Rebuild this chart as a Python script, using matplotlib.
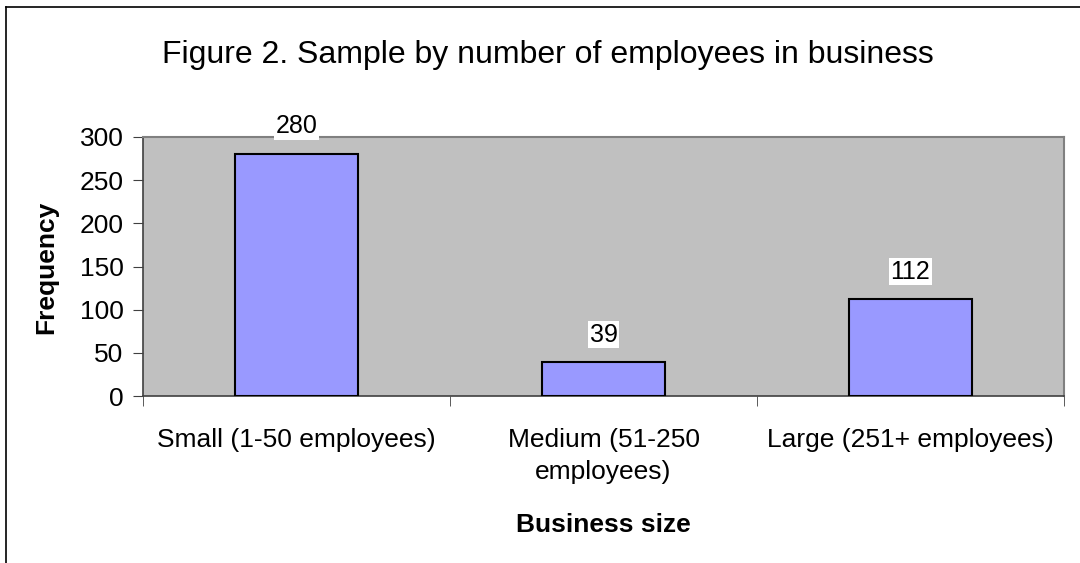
import numpy as np
import matplotlib.pyplot as plt
from matplotlib.lines import Line2D

# Dados
categorias = ["Small (1-50 employees)", "Medium (51-250\nemployees)", "Large (251+ employees)"]
frequencias = [280, 39, 112]
yticks = [0, 50, 100, 150, 200, 250, 300]

plt.rcParams['font.family'] = ['Liberation Sans', 'DejaVu Sans']

fig = plt.figure(figsize=(10.8, 5.63), dpi=100)
W, H = 1080, 563

# Área do gráfico (em pixels da imagem original)
esq, dir_, topo, base = 143, 1064, 137, 396
ax = fig.add_axes([esq / W, (H - base) / H, (dir_ - esq) / W, (base - topo) / H])
ax.set_facecolor('#C0C0C0')

x = np.arange(len(categorias))
ax.bar(x, frequencias, width=0.4, color='#9999FF', edgecolor='black', linewidth=1.5, zorder=3)

# Rótulos de valores
for xi, v in zip(x, frequencias):
    ax.annotate(str(v), (xi, v), xytext=(0, 20), textcoords='offset points',
                ha='center', va='center', fontsize=18,
                bbox=dict(boxstyle='square,pad=0.05', fc='white', ec='none'))

ax.set_xlim(-0.5, 2.5)
ax.set_ylim(0, 300)
ax.set_yticks(yticks)
ax.tick_params(axis='y', labelsize=19, length=7, direction='out', color='#404040', pad=7)

ax.set_xticks(x)
ax.set_xticklabels(categorias, fontsize=19, linespacing=1.42)
ax.tick_params(axis='x', which='major', length=0, pad=23)
ax.set_xticks([-0.5, 0.5, 1.5, 2.5], minor=True)
ax.tick_params(axis='x', which='minor', length=7, direction='out', color='#404040')

for lado in ['top', 'right']:
    ax.spines[lado].set_color('#808080')
    ax.spines[lado].set_linewidth(1.5)
ax.spines['left'].set_color('#404040')
ax.spines['bottom'].set_color('#404040')
ax.spines['left'].set_linewidth(1.2)
ax.spines['bottom'].set_linewidth(1.2)

# Títulos
fig.text(548 / W, 1 - 55 / H, "Figure 2. Sample by number of employees in business",
         ha='center', va='center', fontsize=23)
fig.text(46 / W, 1 - 267 / H, "Frequency", rotation=90, ha='center', va='center',
         fontsize=19, fontweight='bold')
fig.text(603 / W, 1 - 525 / H, "Business size", ha='center', va='center',
         fontsize=19, fontweight='bold')

# Borda do gráfico
fig.add_artist(Line2D([6 / W, 6 / W], [0, 1 - 7 / H], transform=fig.transFigure, color='black', lw=1.2))
fig.add_artist(Line2D([6 / W, 1], [1 - 7 / H, 1 - 7 / H], transform=fig.transFigure, color='black', lw=1.2))

plt.savefig('out.png', dpi=100)
